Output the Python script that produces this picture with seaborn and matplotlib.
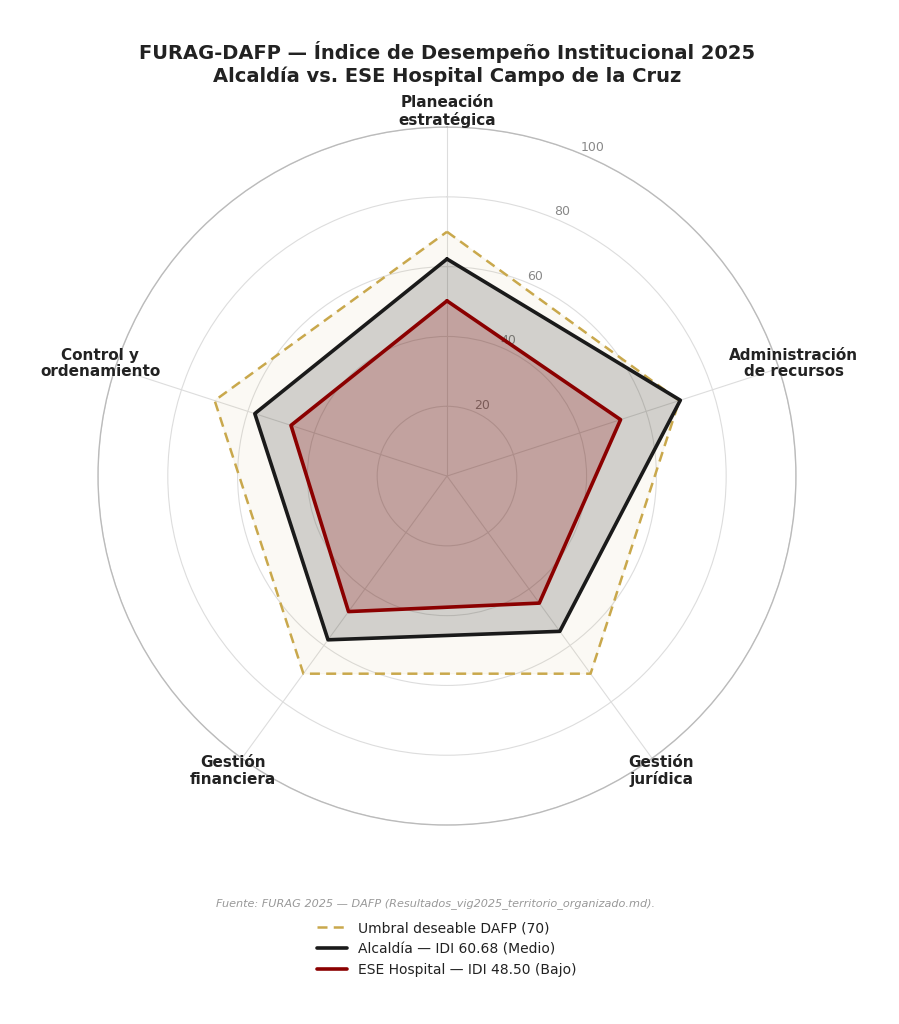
import numpy as np
import pandas as pd
import matplotlib
matplotlib.use("Agg")
import matplotlib.pyplot as plt
import seaborn as sns
from matplotlib.lines import Line2D

categories = ["Planeación\nestratégica", "Administración\nde recursos", "Gestión\njurídica",
              "Gestión\nfinanciera", "Control y\nordenamiento"]
alcaldia = [62.2, 70.3, 55.0, 58.0, 57.9]
ese = [50.2, 52.3, 45.0, 48.0, 47.0]
umbral = [70, 70, 70, 70, 70]
r_ticks = [20, 40, 60, 80, 100]
r_tick_labels = ["20", "40", "60", "80", "100"]

label_umbral = "Umbral deseable DAFP (70)"
label_alc = "Alcaldía — IDI 60.68 (Medio)"
label_ese = "ESE Hospital — IDI 48.50 (Bajo)"

sns.set_theme(style="white")
plt.rcParams['font.family'] = ['DejaVu Sans']

fig = plt.figure(figsize=(8.99, 10.24), dpi=100)
ax = fig.add_axes([0.109, 0.1943, 0.7764, 0.6816], projection="polar")
ax.set_theta_offset(np.pi / 2)
ax.set_theta_direction(-1)

n = len(categories)
angles = np.linspace(0, 2 * np.pi, n, endpoint=False)
ang_c = np.concatenate([angles, angles[:1]])

def closed(v):
    return np.concatenate([v, v[:1]])

df = pd.DataFrame({
    "theta": np.concatenate([ang_c] * 3),
    "r": np.concatenate([closed(umbral), closed(alcaldia), closed(ese)]),
    "serie": [label_umbral] * (n + 1) + [label_alc] * (n + 1) + [label_ese] * (n + 1),
})

ax.fill(ang_c, closed(umbral), color="#c9a84c", alpha=0.06, zorder=1)
ax.fill(ang_c, closed(alcaldia), color="#1a1a1a", alpha=0.18, zorder=2)
ax.fill(ang_c, closed(ese), color="#8b0000", alpha=0.22, zorder=3)

palette = {label_umbral: "#c9a84c", label_alc: "#1a1a1a", label_ese: "#8b0000"}
sns.lineplot(data=df, x="theta", y="r", hue="serie", style="serie", sort=False,
             palette=palette,
             dashes={label_umbral: (4, 2.5), label_alc: "", label_ese: ""},
             linewidth=2.6, ax=ax, legend=False, estimator=None, zorder=4)
ax.lines[0].set_linewidth(1.8)

ax.set_ylim(0, 100)
ax.set_yticks(r_ticks)
ax.set_yticklabels(r_tick_labels, color="#888888", fontsize=9)
ax.set_rlabel_position(22.5)
ax.set_xticks(angles)
ax.set_xticklabels([])
ax.set_xlabel("")
ax.set_ylabel("")
ax.grid(True, color="#dddddd", linewidth=0.8)
ax.spines["polar"].set_color("#bbbbbb")
ax.spines["polar"].set_linewidth(1.0)

for a, c in zip(angles, categories):
    ax.text(a, 104.5, c, ha="center", va="center", fontsize=11, fontweight="bold",
            color="#222222", linespacing=1.12)

fig.text(0.497, 0.938, "FURAG-DAFP — Índice de Desempeño Institucional 2025\nAlcaldía vs. ESE Hospital Campo de la Cruz",
         ha="center", va="center", fontsize=14, fontweight="bold", color="#222222", linespacing=1.22)

fig.text(0.484, 0.118, "Fuente: FURAG 2025 — DAFP (Resultados_vig2025_territorio_organizado.md).",
         ha="center", va="center", fontsize=8.1, style="italic", color="#999999")

handles = [
    Line2D([0], [0], color="#c9a84c", lw=1.8, ls=(0, (4, 2.5))),
    Line2D([0], [0], color="#1a1a1a", lw=2.6),
    Line2D([0], [0], color="#8b0000", lw=2.6),
]
fig.legend(handles, [label_umbral, label_alc, label_ese], loc="center",
           bbox_to_anchor=(0.497, 0.0732), frameon=False, fontsize=10,
           handlelength=2.2, labelspacing=0.5, labelcolor="#222222")

fig.savefig("out.png", dpi=100, facecolor="white")
